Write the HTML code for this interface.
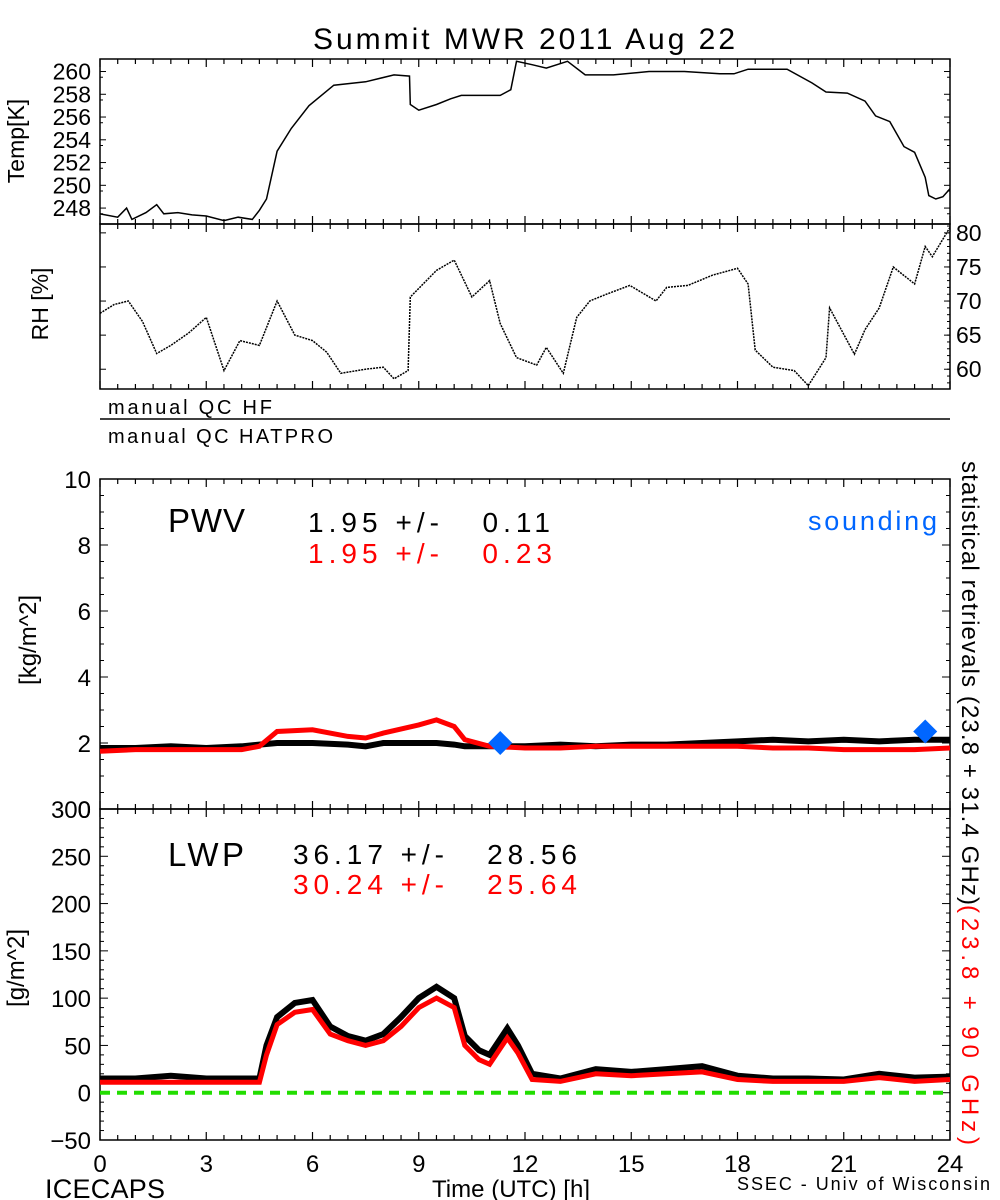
<!DOCTYPE html>
<html><head><meta charset="utf-8">
<style>
body{margin:0;background:#fff;}
svg{display:block;font-family:"Liberation Sans","DejaVu Sans",sans-serif;}
</style></head>
<body>
<svg id="chart" width="1000" height="1200" viewBox="0 0 1000 1200">
<text x="313" y="49" font-size="30" textLength="422" lengthAdjust="spacing">Summit MWR 2011 Aug 22</text>
<g id="g"></g>
</svg>
<script>
// ---- data ----
const tempHours = [0,0.5,0.75,0.9,1.3,1.6,1.8,2.2,2.6,3.0,3.5,3.9,4.3,4.5,4.7,5.0,5.4,5.9,6.6,7.5,8.3,8.74,8.76,9.0,9.5,9.9,10.2,11.3,11.6,11.76,12.2,12.6,13.2,13.7,14.5,15.5,16.5,17.5,17.9,18.3,19.4,20.1,20.5,21.1,21.6,21.9,22.3,22.7,23.0,23.3,23.4,23.6,23.8,24];
const tempVals = [247.5,247.2,248.0,247.0,247.6,248.3,247.5,247.6,247.4,247.3,246.9,247.2,247.0,247.8,248.8,253.0,255.0,257.0,258.8,259.1,259.7,259.6,257.1,256.6,257.1,257.6,257.9,257.9,258.4,260.9,260.6,260.3,260.9,259.7,259.7,260.0,260.0,259.8,259.8,260.2,260.2,259.0,258.2,258.1,257.4,256.1,255.6,253.4,252.9,250.7,249.1,248.8,249.0,249.7];
const rhHours = [0,0.4,0.8,1.2,1.6,2.0,2.5,3.0,3.5,3.95,4.5,5.0,5.5,6.0,6.4,6.8,7.5,8.0,8.3,8.7,8.76,9.5,10.0,10.5,11.0,11.3,11.76,12.33,12.6,13.08,13.46,13.83,14.3,14.96,15.7,16.0,16.6,17.3,18.0,18.3,18.5,19.0,19.6,20.0,20.5,20.6,21.3,21.6,22.0,22.4,23.0,23.3,23.5,24];
const rhVals = [68.2,69.5,70.0,67.0,62.3,63.5,65.3,67.6,59.8,64.2,63.5,70.0,65.0,64.2,62.5,59.4,60.0,60.3,58.6,59.8,70.6,74.5,76.0,70.6,73.0,66.7,61.7,60.6,63.2,59.4,67.6,70.0,71.0,72.3,70.0,72.0,72.3,73.8,74.8,72.5,62.8,60.3,59.8,57.6,61.7,69.0,62.2,65.8,69.0,75.0,72.5,78.0,76.5,80.8];
const pwvHours = [0,1,2,3,4,4.5,5,6,7,7.5,8,9,9.5,10,10.3,11,12,13,14,15,16,17,18,19,20,21,22,23,24];
const pwvHF = [1.85,1.85,1.9,1.85,1.9,1.95,2.0,2.0,1.95,1.9,2.0,2.0,2.0,1.95,1.9,1.9,1.9,1.95,1.9,1.95,1.95,2.0,2.05,2.1,2.05,2.1,2.05,2.1,2.1];
const pwvHAT = [1.75,1.8,1.8,1.8,1.8,1.9,2.35,2.4,2.2,2.15,2.3,2.55,2.7,2.5,2.1,1.9,1.85,1.85,1.9,1.9,1.9,1.9,1.9,1.85,1.85,1.8,1.8,1.8,1.85];
const soundHours = [11.3,23.3];
const soundVals = [2.0,2.35];
const lwpHours = [0,1,2,3,4,4.5,4.7,5.0,5.5,6.0,6.5,7.0,7.5,8.0,8.5,9.0,9.5,10.0,10.3,10.7,11.0,11.5,11.8,12.2,13,14,15,16,17,18,19,20,21,22,23,24];
const lwpHF = [15,15,18,15,15,15,50,80,95,98,70,60,55,62,80,100,112,100,60,45,40,68,50,20,15,25,22,25,28,18,15,15,14,20,16,17];
const lwpHAT = [11,11,11,11,11,11,40,72,85,88,62,55,50,55,70,90,100,90,50,35,30,58,42,14,12,20,18,20,22,14,12,12,12,16,12,14];
const xTicks = [0,3,6,9,12,15,18,21,24];
const tempTicks = [248,250,252,254,256,258,260];
const rhTicks = [60,65,70,75,80];
const pwvTicks = [0,2,4,6,8,10];
const lwpTicks = [-50,0,50,100,150,200,250,300];

// ---- scales ----
const X0=100, X1=950;
const xs = h => X0 + (X1-X0)*h/24;
const lin = (d0,d1,r0,r1) => v => r0 + (v-d0)*(r1-r0)/(d1-d0);
const yT = lin(246.6,261.1,224,59);
const yR = lin(57.1,81.3,389,224);
const yP = lin(0,10,809,479);
const yL = lin(-50,300,1140,809);

const NS="http://www.w3.org/2000/svg";
const G=document.getElementById('g');
function mk(tag,attrs,parent){const e=document.createElementNS(NS,tag);for(const k in attrs)e.setAttribute(k,attrs[k]);(parent||G).appendChild(e);return e;}
function pathD(hs,vs,ys){return hs.map((h,i)=>(i?'L':'M')+xs(h).toFixed(1)+','+ys(vs[i]).toFixed(1)).join('');}

function frame(top,bot,name){
  const r=mk('rect',{x:X0,y:top,width:X1-X0,height:bot-top,fill:'none',stroke:'#000','stroke-width':1.5});
  
  
  for(let h=0;h<=24;h+=0.5){
    const major = h%3===0; const L = major?8:5;
    mk('line',{x1:xs(h),x2:xs(h),y1:top,y2:top+L,stroke:'#000','stroke-width':1.2});
    mk('line',{x1:xs(h),x2:xs(h),y1:bot,y2:bot-L,stroke:'#000','stroke-width':1.2});
  }
}
function clipRect(id,top,bot){const c=mk('clipPath',{id:id});mk('rect',{x:X0,y:top,width:X1-X0,height:bot-top},c);}
clipRect('cT',59,224);clipRect('cR',224,389);clipRect('cP',479,809);clipRect('cL',809,1140);

// Temp panel
frame(59,224,'temp-panel');
[248,250,252,254,256,258,260].forEach(v=>{const y=yT(v);mk('line',{x1:X0,x2:X0+6,y1:y,y2:y,stroke:'#000'});mk('line',{x1:X1,x2:X1-6,y1:y,y2:y,stroke:'#000'});
 mk('line',{x1:X0,x2:X0+3,y1:y+5.7,y2:y+5.7,stroke:'#000'});mk('line',{x1:X1,x2:X1-3,y1:y+5.7,y2:y+5.7,stroke:'#000'});});
tempTicks.forEach(v=>{const t=mk('text',{x:91,y:yT(v)+8,'font-size':23,'text-anchor':'end'});t.textContent=v;
 
 });
const tl=mk('text',{x:0,y:0,'font-size':23,'text-anchor':'middle',transform:'translate(24,141) rotate(-90)'});tl.textContent='Temp[K]';


const tp=mk('path',{d:pathD(tempHours,tempVals,yT),fill:'none',stroke:'#000','stroke-width':1.5,'clip-path':'url(#cT)'});



// RH panel
frame(224,389,'rh-panel');
for(let v=60;v<=80;v+=5){const y=yR(v);mk('line',{x1:X0,x2:X0+6,y1:y,y2:y,stroke:'#000'});mk('line',{x1:X1,x2:X1-6,y1:y,y2:y,stroke:'#000'});}
for(let v=58;v<=81;v+=1){const y=yR(v);mk('line',{x1:X1,x2:X1-3,y1:y,y2:y,stroke:'#000'});}
rhTicks.forEach(v=>{const t=mk('text',{x:956,y:yR(v)+8,'font-size':23});t.textContent=v;
 
 });
const rl=mk('text',{x:0,y:0,'font-size':23,'text-anchor':'middle',transform:'translate(48,304) rotate(-90)'});rl.textContent='RH [%]';


const rp=mk('path',{d:pathD(rhHours,rhVals,yR),fill:'none',stroke:'#000','stroke-width':1.5,'stroke-dasharray':'2,1','clip-path':'url(#cR)'});



function txt(x,y,s,size,fill,name,len){const t=mk('text',{x:x,y:y,'font-size':size,fill:fill});t.textContent=s;t.setAttribute('xml:space','preserve');t.style.whiteSpace='pre';if(len){t.setAttribute('textLength',len);t.setAttribute('lengthAdjust','spacing');}return t;}

// QC rows
txt(108,414,'manual QC HF',20,'#000','qc-hf-label',164);
mk('line',{x1:X0,x2:X1,y1:419,y2:419,stroke:'#000','stroke-width':1.5});
txt(108,443,'manual QC HATPRO',20,'#000','qc-hatpro-label',225);

// PWV panel
frame(479,809,'pwv-panel');
for(let v=0;v<=10;v+=0.5){const y=yP(v);const L=(v%2===0)?8:4;mk('line',{x1:X0,x2:X0+L,y1:y,y2:y,stroke:'#000'});mk('line',{x1:X1,x2:X1-L,y1:y,y2:y,stroke:'#000'});}
pwvTicks.forEach(v=>{const t=mk('text',{x:91,y:yP(v)+9,'font-size':24,'text-anchor':'end'});t.textContent=v;
 
 });
const pl=mk('text',{x:0,y:0,'font-size':24,'text-anchor':'middle',transform:'translate(36,640) rotate(-90)'});pl.textContent='[kg/m^2]';


const pb=mk('path',{d:pathD(pwvHours,pwvHF,yP),fill:'none',stroke:'#000','stroke-width':6,'clip-path':'url(#cP)'});


const pr=mk('path',{d:pathD(pwvHours,pwvHAT,yP),fill:'none',stroke:'#ff0000','stroke-width':5,'clip-path':'url(#cP)'});


soundHours.forEach((h,i)=>{const cx=xs(h),cy=yP(soundVals[i]);
 const d=mk('polygon',{points:`${cx},${cy-12} ${cx+12},${cy} ${cx},${cy+12} ${cx-12},${cy}`,fill:'#0066ff'});
 
 });
txt(168,532,'PWV',33,'#000','pwv-label',77);
txt(308,532,'1.95 +/-   0.11',28,'#000','pwv-hf-stats',242);
txt(308,563,'1.95 +/-   0.23',28,'#ff0000','pwv-hatpro-stats',244);
txt(808,530,'sounding',27,'#0066ff','sounding-legend',129);

// LWP panel
frame(809,1140,'lwp-panel');
for(let v=-50;v<=300;v+=10){const y=yL(v);const L=(v%50===0)?8:4;mk('line',{x1:X0,x2:X0+L,y1:y,y2:y,stroke:'#000'});mk('line',{x1:X1,x2:X1-L,y1:y,y2:y,stroke:'#000'});}
lwpTicks.forEach(v=>{const t=mk('text',{x:91,y:yL(v)+9,'font-size':24,'text-anchor':'end'});t.textContent=(v<0?'\u2212'+(-v):v);
 
 });
const ll=mk('text',{x:0,y:0,'font-size':24,'text-anchor':'middle',transform:'translate(24,968) rotate(-90)'});ll.textContent='[g/m^2]';


const zl=mk('line',{x1:X0,x2:X1,y1:yL(0),y2:yL(0),stroke:'#22dd00','stroke-width':4,'stroke-dasharray':'10,7'});


const lb=mk('path',{d:pathD(lwpHours,lwpHF,yL),fill:'none',stroke:'#000','stroke-width':6,'clip-path':'url(#cL)'});


const lr=mk('path',{d:pathD(lwpHours,lwpHAT,yL),fill:'none',stroke:'#ff0000','stroke-width':5,'clip-path':'url(#cL)'});


txt(168,866,'LWP',33,'#000','lwp-label',76);
txt(293,864,'36.17 +/-   28.56',28,'#000','lwp-hf-stats',284);
txt(293,894,'30.24 +/-   25.64',28,'#ff0000','lwp-hatpro-stats',284);

// x tick labels
xTicks.forEach(h=>{const t=mk('text',{x:xs(h),y:1172,'font-size':24,'text-anchor':'middle'});t.textContent=h;
 
 });
txt(45,1198,'ICECAPS',27,'#000','icecaps-label',120);
txt(432,1197,'Time (UTC) [h]',24,'#000','x-axis-title',158);
txt(737,1190,'SSEC - Univ of Wisconsin',18,'#000','credit-label',253);

// right vertical label
const rv=mk('text',{x:0,y:0,'font-size':24,transform:'translate(962,461) rotate(90)'});


const s1=mk('tspan',{fill:'#000',textLength:444,lengthAdjust:'spacing'},rv);s1.textContent='statistical retrievals (23.8 + 31.4 GHz)';
const s2=mk('tspan',{fill:'#ff0000',x:444,textLength:240,lengthAdjust:'spacing'},rv);s2.textContent='(23.8 + 90 GHz)';
</script>
</body></html>
